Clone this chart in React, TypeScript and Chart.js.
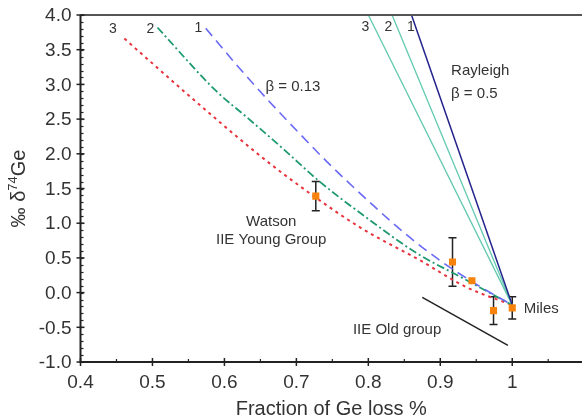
import React, { useEffect, useRef } from "react";
import { Chart, registerables } from "chart.js";

Chart.register(...registerables);

// ---- axis ticks ----
const xTickValues = [0.4, 0.5, 0.6, 0.7, 0.8, 0.9, 1.0];
const xTickLabels = ["0.4", "0.5", "0.6", "0.7", "0.8", "0.9", "1"];
const yTickValues = [-1, -0.5, 0, 0.5, 1, 1.5, 2, 2.5, 3, 3.5, 4];
const yTickLabels = ["-1.0", "-0.5", "0.0", "0.5", "1.0", "1.5", "2.0", "2.5", "3.0", "3.5", "4.0"];

// ---- beta = 0.13 curves ----
const curve1X = [0.574, 0.617, 0.66, 0.7, 0.743, 0.8, 0.85, 0.9, 0.95, 1.0];
const curve1Y = [3.81, 3.28, 2.78, 2.34, 1.88, 1.32, 0.86, 0.46, 0.12, -0.18];
const curve2X = [0.507, 0.587, 0.633, 0.684, 0.73, 0.8, 0.867, 0.931, 1.0];
const curve2Y = [3.82, 2.92, 2.51, 2.05, 1.62, 1.06, 0.57, 0.21, -0.18];
const curve3X = [0.461, 0.555, 0.651, 0.716, 0.79, 0.871, 0.936, 1.0];
const curve3Y = [3.66, 2.8, 1.96, 1.45, 0.93, 0.47, 0.08, -0.18];

// ---- Rayleigh beta = 0.5 lines ----
const ray1X = [0.86, 1.0];
const ray1Y = [4.0, -0.18];
const ray2X = [0.833, 1.0];
const ray2Y = [4.0, -0.18];
const ray3X = [0.8, 1.0];
const ray3Y = [4.0, -0.18];

// ---- IIE Old group trend ----
const oldX = [0.875, 0.994];
const oldY = [-0.07, -0.76];

// ---- measured samples ----
const obsX = [0.727, 0.917, 0.944, 0.974, 1.0];
const obsY = [1.39, 0.44, 0.17, -0.26, -0.22];
const obsErr = [0.21, 0.35, 0, 0.2, 0.16];

// ---- annotations ----
const labelTexts = ["3", "2", "1", "3", "2", "1", "Rayleigh", "β = 0.5", "β = 0.13", "Watson", "IIE Young Group", "IIE Old group", "Miles"];
const labelX = [0.445, 0.497, 0.564, 0.796, 0.828, 0.859, 0.915, 0.915, 0.657, 0.665, 0.665, 0.84, 1.016];
const labelY = [3.8, 3.8, 3.81, 3.82, 3.82, 3.82, 3.2, 2.87, 2.97, 1.02, 0.76, -0.54, -0.23];
const labelAlign = ["center", "center", "center", "center", "center", "center", "left", "left", "left", "center", "center", "center", "left"];

const zip = (xs: number[], ys: number[]) => xs.map((x, i) => ({ x, y: ys[i] }));

const FONT = "'Liberation Sans', Arial, Helvetica, sans-serif";

const decorPlugin = {
  id: "decor",
  beforeDatasetsDraw(chart: any) {
    const { ctx } = chart;
    const xs = chart.scales.x;
    const ys = chart.scales.y;
    ctx.save();
    ctx.strokeStyle = "#222";
    ctx.lineWidth = 1.5;
    obsX.forEach((x, i) => {
      const e = obsErr[i];
      if (!e) return;
      const px = xs.getPixelForValue(x);
      const top = ys.getPixelForValue(obsY[i] + e);
      const bot = ys.getPixelForValue(obsY[i] - e);
      ctx.beginPath();
      ctx.moveTo(px, top);
      ctx.lineTo(px, bot);
      ctx.moveTo(px - 4, top);
      ctx.lineTo(px + 4, top);
      ctx.moveTo(px - 4, bot);
      ctx.lineTo(px + 4, bot);
      ctx.stroke();
    });
    ctx.restore();
  },
  afterDraw(chart: any) {
    const { ctx, chartArea } = chart;
    const xs = chart.scales.x;
    const ys = chart.scales.y;
    const L = chartArea.left;
    const B = chartArea.bottom;
    const T = chartArea.top;
    ctx.save();
    // top border
    ctx.strokeStyle = "#555";
    ctx.lineWidth = 2;
    ctx.beginPath();
    ctx.moveTo(L, T);
    ctx.lineTo(chart.width, T);
    ctx.stroke();
    // axes
    ctx.strokeStyle = "#222";
    ctx.lineWidth = 2;
    ctx.beginPath();
    ctx.moveTo(L, T);
    ctx.lineTo(L, B);
    ctx.lineTo(chart.width, B);
    ctx.stroke();
    ctx.lineWidth = 1.2;
    // y minor ticks
    for (let v = -1; v <= 4.001; v += 0.1) {
      const py = Math.round(ys.getPixelForValue(v)) + 0.5;
      ctx.beginPath();
      ctx.moveTo(L, py);
      ctx.lineTo(L + 3, py);
      ctx.stroke();
    }
    // y major ticks + labels
    ctx.fillStyle = "#333";
    ctx.font = `19px ${FONT}`;
    ctx.textAlign = "right";
    ctx.textBaseline = "middle";
    yTickValues.forEach((v, i) => {
      const py = ys.getPixelForValue(v);
      ctx.lineWidth = 1.5;
      ctx.beginPath();
      ctx.moveTo(L - 4, py);
      ctx.lineTo(L + 4, py);
      ctx.stroke();
      ctx.fillText(yTickLabels[i], L - 9, py + 1);
    });
    // x minor ticks
    for (let v = 0.45; v < 1.09; v += 0.1) {
      const px = xs.getPixelForValue(v);
      ctx.lineWidth = 1.2;
      ctx.beginPath();
      ctx.moveTo(px, B);
      ctx.lineTo(px, B - 3);
      ctx.stroke();
    }
    ctx.textAlign = "center";
    ctx.textBaseline = "middle";
    xTickValues.forEach((v, i) => {
      const px = xs.getPixelForValue(v);
      ctx.lineWidth = 1.5;
      ctx.beginPath();
      ctx.moveTo(px, B - 4);
      ctx.lineTo(px, B + 4);
      ctx.stroke();
      ctx.fillText(xTickLabels[i], px, B + 21);
    });
    // x title
    ctx.font = `20px ${FONT}`;
    ctx.fillText("Fraction of Ge loss %", (L + chart.width) / 2, B + 47);
    // y title with superscript
    ctx.save();
    ctx.translate(19, (T + B) / 2);
    ctx.rotate(-Math.PI / 2);
    const p1 = "‰ δ";
    const p2 = "74";
    const p3 = "Ge";
    ctx.font = `20px ${FONT}`;
    const w1 = ctx.measureText(p1).width;
    const w3 = ctx.measureText(p3).width;
    ctx.font = `13px ${FONT}`;
    const w2 = ctx.measureText(p2).width;
    let sx = -(w1 + w2 + w3) / 2;
    ctx.textAlign = "left";
    ctx.textBaseline = "middle";
    ctx.font = `20px ${FONT}`;
    ctx.fillText(p1, sx, 0);
    sx += w1;
    ctx.font = `13px ${FONT}`;
    ctx.fillText(p2, sx, -6);
    sx += w2;
    ctx.font = `20px ${FONT}`;
    ctx.fillText(p3, sx, 0);
    ctx.restore();
    // annotations
    ctx.fillStyle = "#333";
    ctx.textBaseline = "middle";
    labelTexts.forEach((t, i) => {
      ctx.font = `${i < 6 ? 14 : 15}px ${FONT}`;
      ctx.textAlign = labelAlign[i] as CanvasTextAlign;
      ctx.fillText(t, xs.getPixelForValue(labelX[i]), ys.getPixelForValue(labelY[i]));
    });
    ctx.restore();
  },
};

export default function App() {
  const ref = useRef<HTMLCanvasElement | null>(null);
  useEffect(() => {
    document.body.style.margin = "0";
    const canvas = ref.current!;
    const lineBase = { showLine: true, pointRadius: 0, fill: false, cubicInterpolationMode: "monotone" as const };
    const straight = { showLine: true, pointRadius: 0, fill: false, tension: 0 };
    const chart = new Chart(canvas, {
      type: "scatter",
      data: {
        datasets: [
          { ...lineBase, label: "obs", data: zip(obsX, obsY), showLine: false, pointStyle: "rect", pointRadius: 5, backgroundColor: "#f7820c", borderColor: "#f7820c", borderWidth: 0, order: 0 } as any,
          { ...lineBase, label: "1", data: zip(curve1X, curve1Y), borderColor: "#6a6af5", borderWidth: 1.6, borderDash: [10, 6], order: 3 },
          { ...lineBase, label: "2", data: zip(curve2X, curve2Y), borderColor: "#1f9a6e", borderWidth: 1.8, borderDash: [8, 3, 2, 3], order: 4 },
          { ...lineBase, label: "3", data: zip(curve3X, curve3Y), borderColor: "#e8323c", borderWidth: 2, borderDash: [3, 4], order: 5 },
          { ...straight, label: "R1", data: zip(ray1X, ray1Y), borderColor: "#23238c", borderWidth: 1.5, order: 2 },
          { ...straight, label: "R2", data: zip(ray2X, ray2Y), borderColor: "#62c9b0", borderWidth: 1.3, order: 2 },
          { ...straight, label: "R3", data: zip(ray3X, ray3Y), borderColor: "#62c9b0", borderWidth: 1.3, order: 2 },
          { ...straight, label: "old", data: zip(oldX, oldY), borderColor: "#222", borderWidth: 1.5, order: 2 },
        ],
      },
      options: {
        responsive: false,
        animation: false,
        layout: { padding: { left: 80.5, top: 15, right: 0, bottom: 57 } },
        plugins: { legend: { display: false }, tooltip: { enabled: false } },
        scales: {
          x: { type: "linear", min: 0.4, max: 1.09, display: false },
          y: { type: "linear", min: -1, max: 4, display: false },
        },
      },
      plugins: [decorPlugin],
    });
    return () => chart.destroy();
  }, []);
  return (
    <div style={{ width: 582, height: 419, background: "#fff" }}>
      <canvas ref={ref} width={582} height={419} style={{ display: "block" }} />
    </div>
  );
}
